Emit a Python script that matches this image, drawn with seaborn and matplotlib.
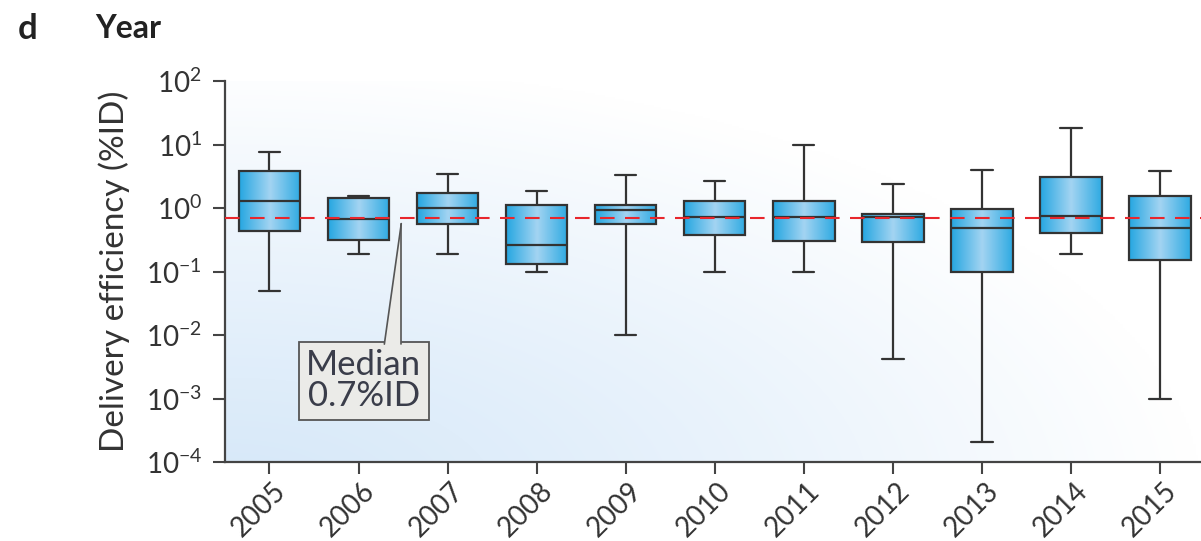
# Box plot of delivery efficiency (%ID) by publication year, log scale
import numpy as np
import pandas as pd
import seaborn as sns
import matplotlib.pyplot as plt
import matplotlib.transforms as mtransforms
from matplotlib.colors import LinearSegmentedColormap

# Values (five-number summary per year)
years = ['2005', '2006', '2007', '2008', '2009', '2010',
         '2011', '2012', '2013', '2014', '2015']
whisker_low = [0.05, 0.19, 0.19, 0.10, 0.010, 0.10, 0.10, 0.0042, 0.00021, 0.19, 0.001]
q1 = [0.44, 0.32, 0.56, 0.13, 0.56, 0.38, 0.30, 0.29, 0.10, 0.40, 0.15]
medians = [1.28, 0.68, 1.0, 0.26, 0.92, 0.72, 0.72, 0.72, 0.49, 0.76, 0.49]
q3 = [3.8, 1.45, 1.76, 1.12, 1.12, 1.28, 1.28, 0.82, 0.98, 3.1, 1.53]
whisker_high = [7.6, 1.53, 3.5, 1.87, 3.3, 2.7, 9.8, 2.4, 4.0, 18.4, 3.8]
overall_median = 0.7
median_label = 'Median\n0.7%ID'

# Long table: five points per year so the quartiles land exactly on the values
rows = []
for i, yr in enumerate(years):
    for v in (whisker_low[i], q1[i], medians[i], q3[i], whisker_high[i]):
        rows.append({'year': yr, 'value': v})
df = pd.DataFrame(rows)

sns.set_style('white')
plt.rcParams['font.family'] = ['Lato', 'DejaVu Sans']
plt.rcParams['mathtext.default'] = 'regular'

fig = plt.figure(figsize=(12.01, 5.41), dpi=100)
ax = fig.add_axes([0.1873, 0.146, 0.8127, 0.704])

edge = '#333333'
sns.boxplot(data=df, x='year', y='value', whis=(0, 100), log_scale=True,
            width=0.69, color='#3cb0e6', linecolor=edge, linewidth=1.6,
            ax=ax)

# Horizontal gradient inside each box
box_cmap = LinearSegmentedColormap.from_list(
    'boxfill', ['#27a7e1', '#a3d4f2', '#2eaae2'])
grad = np.linspace(0, 1, 256).reshape(1, -1)
for patch in list(ax.patches):
    verts = patch.get_path().vertices
    x0, x1 = verts[:, 0].min(), verts[:, 0].max()
    y0, y1 = verts[:, 1].min(), verts[:, 1].max()
    im = ax.imshow(grad, extent=[x0, x1, y0, y1], aspect='auto',
                   cmap=box_cmap, zorder=patch.get_zorder() - 0.01,
                   interpolation='bilinear')
    im.set_clip_path(patch)
    patch.set_facecolor('none')

# Narrower whisker caps
for line in ax.lines:
    xd = np.asarray(line.get_xdata(), dtype=float)
    yd = np.asarray(line.get_ydata(), dtype=float)
    if len(xd) == 2 and yd[0] == yd[1] and 0 < abs(xd[1] - xd[0]) < 0.6:
        c = xd.mean()
        line.set_xdata([c - 0.12, c + 0.12])

# Soft blue background glow from lower left
gx, gy = np.meshgrid(np.linspace(0, 1, 400), np.linspace(0, 1, 200))
dist = np.sqrt((gx / 1.0) ** 2 + ((gy + 0.1) / 1.15) ** 2)
t = np.clip(dist, 0, 1) ** 1.2
c0 = np.array([0.84, 0.91, 0.975])
bg = c0[None, None, :] * (1 - t[..., None]) + t[..., None]
ax.imshow(bg, extent=[0, 1, 0, 1], transform=ax.transAxes, origin='lower',
          aspect='auto', zorder=-10, interpolation='bilinear')

# Reference median line
ax.axhline(overall_median, color='#e8262c', lw=1.5, dashes=(7, 5), zorder=10)

ax.set_xlim(-0.5, 10.46)
ax.set_ylim(1e-4, 1e2)

# Callout pointing at the median line
call_fc = '#ebebe8'
ax.text(1.06, 1.9e-3, median_label, ha='center', va='center', fontsize=25,
        color='#3a3d4a', linespacing=0.95, zorder=11,
        bbox=dict(boxstyle='square,pad=0.22', fc=call_fc, ec='#555555', lw=1.3))
wx = [1.29, 1.48, 1.48]
wy = [0.0072, 0.57, 0.0072]
ax.fill(wx, wy, color=call_fc, zorder=12, lw=0)
ax.plot(wx[:2], wy[:2], color='#555555', lw=1.2, zorder=12)
ax.plot(wx[1:], wy[1:], color='#555555', lw=1.2, zorder=12)

# Axes styling
sns.despine(ax=ax)
for side in ('left', 'bottom'):
    ax.spines[side].set_color('#444444')
    ax.spines[side].set_linewidth(1.6)
ax.tick_params(axis='both', direction='out', length=8.5, width=1.5,
               color='#444444', labelsize=20, labelcolor='#333333',
               left=True, bottom=True)
ax.tick_params(axis='y', pad=8)
ax.minorticks_off()
ax.set_xlabel('')
ax.set_ylabel('Delivery efficiency (%ID)', fontsize=24, color='#333333',
              labelpad=11)
ax.set_xticks(range(len(years)))
ax.set_xticklabels(years, rotation=45, ha='right', va='top',
                   rotation_mode='anchor', fontsize=20)
shift = mtransforms.ScaledTranslation(3 / 100, 1 / 100, fig.dpi_scale_trans)
for lbl in ax.get_xticklabels():
    lbl.set_transform(lbl.get_transform() + shift)

fig.text(0.015, 0.947, 'd', fontsize=25, fontweight='bold', color='#222222',
         va='center')
fig.text(0.079, 0.947, 'Year', fontsize=23, fontweight='bold',
         color='#222222', va='center')

fig.savefig('out.png', dpi=100)
